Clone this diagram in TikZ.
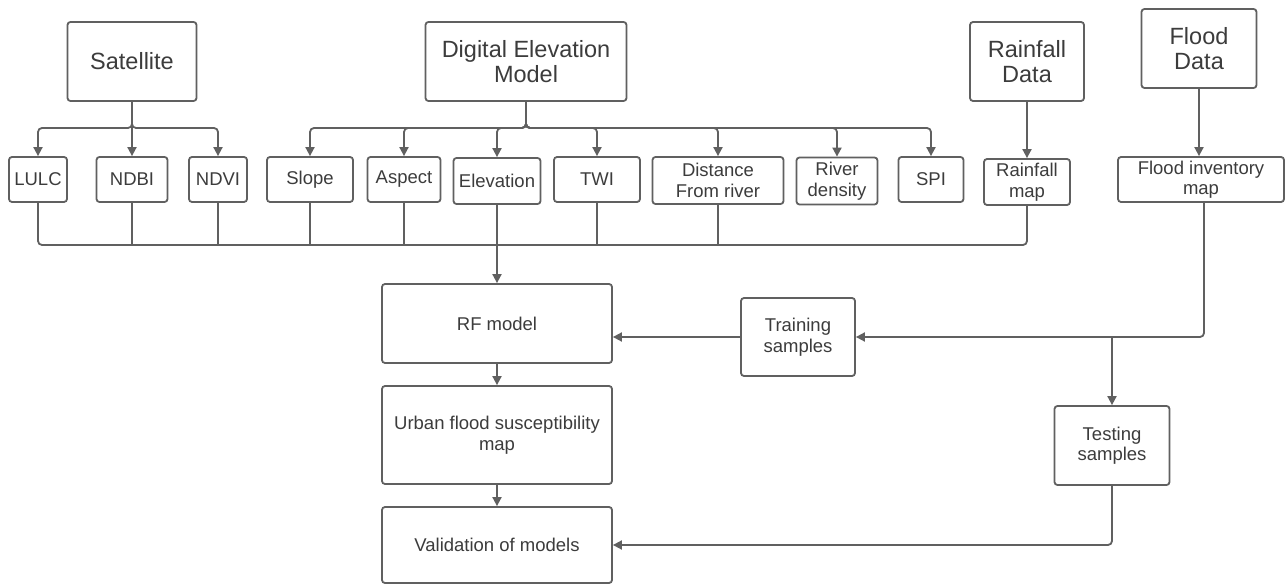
\documentclass[tikz,border=0pt]{standalone}
\usepackage{fontspec}
\setmainfont{Liberation Sans}
\usetikzlibrary{arrows.meta}
\definecolor{ink}{HTML}{3C3C3C}
\definecolor{wire}{HTML}{606060}
\begin{document}
\begin{tikzpicture}[x=1pt,y=-1pt,
  box/.style={draw=wire,line width=1.8pt,rounded corners=3pt,text=ink,
    align=center,inner sep=0pt,font=\fontsize{18.5}{20.5}\selectfont},
  bigbox/.style={box,font=\fontsize{23.5}{25}\selectfont},
  wline/.style={draw=wire,line width=1.8pt,rounded corners=4pt},
  arr/.style={wline,-{Triangle[length=9pt,width=9pt]}}]
\useasboundingbox[fill=white] (0,0) rectangle (1288,585);

% source boxes
\node[bigbox,minimum width=129pt,minimum height=79pt] (sat)   at (132,61.5) {Satellite};
\node[bigbox,minimum width=201pt,minimum height=79pt] (dem)   at (526,61.5) {Digital Elevation\\Model};
\node[bigbox,minimum width=114pt,minimum height=79pt] (rain)  at (1027,61.5) {Rainfall\\Data};
\node[bigbox,minimum width=115pt,minimum height=79pt] (flood) at (1199,48.5) {Flood\\Data};

% factor layers
\node[box,minimum width=58pt,minimum height=45pt]  (lulc)   at (38,179.5) {LULC};
\node[box,minimum width=71pt,minimum height=45pt]  (ndbi)   at (132,179.5) {NDBI};
\node[box,minimum width=58pt,minimum height=45pt]  (ndvi)   at (218,179.5) {NDVI};
\node[box,minimum width=86pt,minimum height=45pt]  (slope)  at (310,179.5) {Slope};
\node[box,minimum width=73pt,minimum height=45pt]  (aspect) at (404,179.5) {Aspect};
\node[box,minimum width=87pt,minimum height=46pt]  (elev)   at (497,181) {Elevation};
\node[box,minimum width=86pt,minimum height=45pt]  (twi)    at (597,179.5) {TWI};
\node[box,minimum width=131pt,minimum height=47pt] (dist)   at (718,180.5) {Distance\\From river};
\node[box,minimum width=81pt,minimum height=47pt]  (river)  at (837,181) {River\\density};
\node[box,minimum width=65pt,minimum height=45pt]  (spi)    at (931,179.5) {SPI};
\node[box,minimum width=86pt,minimum height=46pt]  (rmap)   at (1027,182) {Rainfall\\map};
\node[box,minimum width=166pt,minimum height=45pt] (finv)   at (1201,179.5) {Flood inventory\\map};

% modelling chain
\node[box,minimum width=230pt,minimum height=79pt] (rf)    at (497,323.5) {RF model};
\node[box,minimum width=230pt,minimum height=98pt] (urban) at (497,435) {Urban flood susceptibility\\map};
\node[box,minimum width=230pt,minimum height=76pt] (valid) at (497,545) {Validation of models};
\node[box,minimum width=114pt,minimum height=78pt] (train) at (798,337) {Training\\samples};
\node[box,minimum width=115pt,minimum height=79pt] (test)  at (1112,445.5) {Testing\\samples};

% junction points
\coordinate (satbus) at (132,128);
\coordinate (dembus) at (526,128);
\coordinate (merge)  at (497,245);
\coordinate (split)  at (1112,337);

% satellite products
\draw[arr] (sat.south) -- (satbus) -| (lulc.north);
\draw[arr] (sat.south) -- (ndbi.north);
\draw[arr] (sat.south) -- (satbus) -| (ndvi.north);

% DEM derivatives
\foreach \n in {slope,aspect,elev,twi,dist,river,spi}
  \draw[arr] (dem.south) -- (dembus) -| (\n.north);

% rainfall and flood inventory
\draw[arr] (rain.south) -- (rmap.north);
\draw[arr] (flood.south) -- (flood.south |- finv.north);

% collector line into the model
\draw[wline] (lulc.south) |- (merge) -| (rmap.south);
\foreach \n in {ndbi,ndvi,slope,aspect,twi,dist}
  \draw[wline] (\n.south) -- (\n.south |- merge);
\draw[arr] (elev.south) -- (rf.north);

% sample split
\draw[arr] ([xshift=3pt]finv.south) |- (train.east);
\draw[arr] (split) -- (test.north);
\draw[arr] (train.west) -- (train.west -| rf.east);

% model chain
\draw[arr] (rf.south) -- (urban.north);
\draw[arr] (urban.south) -- (valid.north);
\draw[arr] (test.south) |- (valid.east);
\end{tikzpicture}
\end{document}
